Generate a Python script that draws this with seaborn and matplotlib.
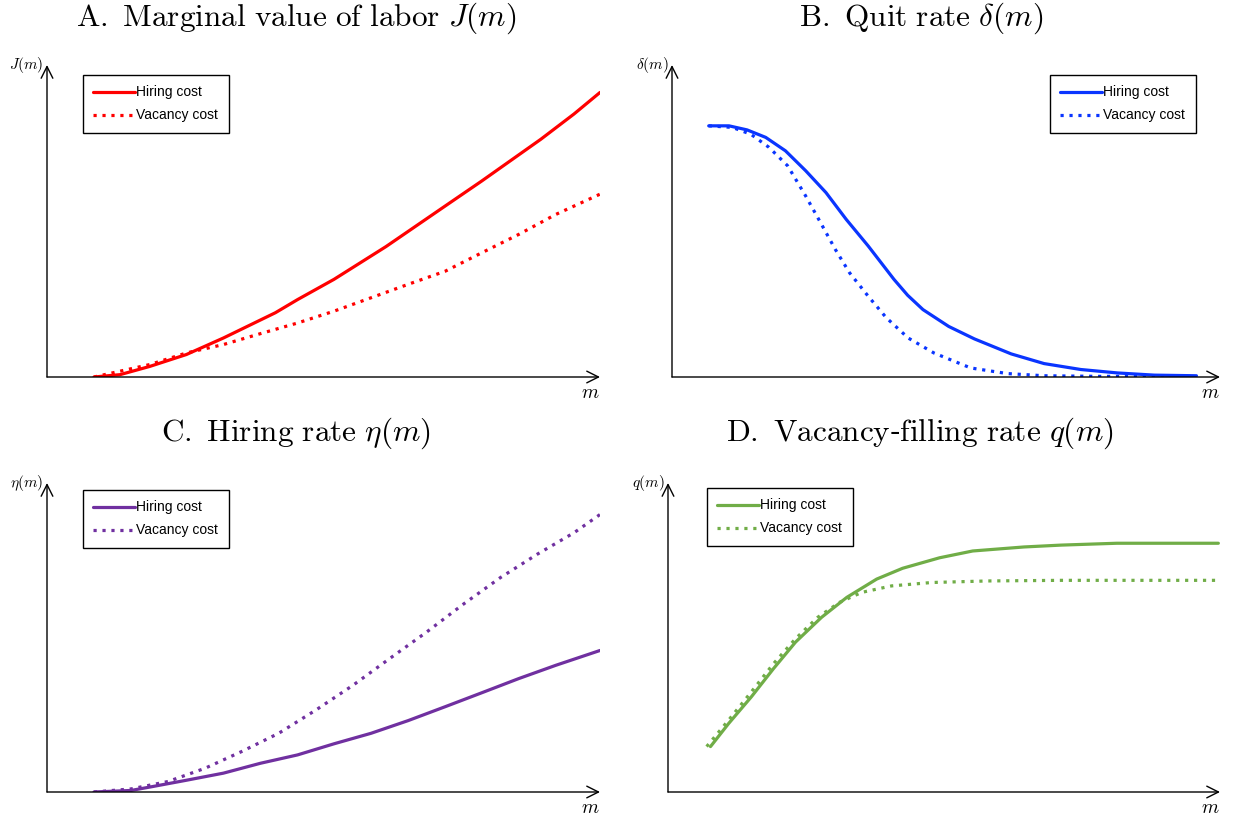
import matplotlib
matplotlib.use("Agg")
import matplotlib.pyplot as plt
import seaborn as sns

# ---------------- data (normalised m on [0,1], value on [0,1]) ----------------
# Panel A: marginal value of labor J(m)
mA_hiring = [0.085, 0.132, 0.186, 0.252, 0.319, 0.413, 0.453, 0.519, 0.613, 0.720, 0.786, 0.893, 0.953, 1.0]
JA_hiring = [0.0, 0.0075, 0.034, 0.072, 0.125, 0.206, 0.248, 0.313, 0.418, 0.548, 0.628, 0.762, 0.843, 0.912]
mA_vacancy = [0.085, 0.186, 0.252, 0.319, 0.386, 0.453, 0.519, 0.586, 0.653, 0.720, 0.786, 0.853, 0.920, 1.0]
JA_vacancy = [0.0, 0.040, 0.077, 0.104, 0.139, 0.173, 0.211, 0.254, 0.297, 0.339, 0.398, 0.457, 0.521, 0.586]

# Panel B: quit rate delta(m)
mB_hiring = [0.067, 0.104, 0.137, 0.171, 0.207, 0.244, 0.281, 0.318, 0.358, 0.405, 0.430, 0.458, 0.505, 0.552,
             0.619, 0.679, 0.746, 0.813, 0.880, 0.957]
dB_hiring = [0.805, 0.805, 0.792, 0.768, 0.725, 0.661, 0.591, 0.505, 0.420, 0.313, 0.262, 0.216, 0.162, 0.122,
             0.074, 0.043, 0.024, 0.013, 0.006, 0.004]
mB_vacancy = [0.067, 0.110, 0.144, 0.177, 0.211, 0.244, 0.271, 0.298, 0.324, 0.358, 0.391, 0.431, 0.478,
              0.545, 0.612, 0.679, 0.779, 0.957]
dB_vacancy = [0.805, 0.800, 0.778, 0.736, 0.677, 0.580, 0.495, 0.409, 0.334, 0.259, 0.190, 0.125, 0.077,
              0.029, 0.011, 0.004, 0.002, 0.002]

# Panel C: hiring rate eta(m)
mC_hiring = [0.085, 0.152, 0.186, 0.252, 0.319, 0.386, 0.453, 0.519, 0.586, 0.653, 0.720, 0.786, 0.853, 0.920, 1.0]
eC_hiring = [0.0, 0.005, 0.016, 0.038, 0.061, 0.093, 0.120, 0.156, 0.190, 0.231, 0.276, 0.321, 0.367, 0.410, 0.458]
mC_vacancy = [0.085, 0.152, 0.219, 0.286, 0.352, 0.419, 0.486, 0.553, 0.619, 0.686, 0.753, 0.820, 0.887, 0.953, 1.0]
eC_vacancy = [0.0, 0.010, 0.034, 0.077, 0.131, 0.190, 0.265, 0.345, 0.431, 0.517, 0.608, 0.694, 0.770, 0.839, 0.898]

# Panel D: vacancy-filling rate q(m)
mD_hiring = [0.077, 0.110, 0.151, 0.191, 0.231, 0.278, 0.324, 0.378, 0.425, 0.492, 0.552, 0.645, 0.712, 0.813, 0.997]
qD_hiring = [0.147, 0.222, 0.308, 0.399, 0.485, 0.565, 0.630, 0.689, 0.724, 0.758, 0.780, 0.793, 0.799, 0.805, 0.805]
mD_vacancy = [0.070, 0.110, 0.151, 0.191, 0.231, 0.271, 0.311, 0.351, 0.405, 0.478, 0.579, 0.712, 0.997]
qD_vacancy = [0.147, 0.233, 0.324, 0.415, 0.496, 0.565, 0.614, 0.646, 0.667, 0.678, 0.683, 0.685, 0.685]

titles = [r"$\mathrm{A.\ Marginal\ value\ of\ labor}\ J(m)$",
          r"$\mathrm{B.\ Quit\ rate}\ \delta(m)$",
          r"$\mathrm{C.\ Hiring\ rate}\ \eta(m)$",
          r"$\mathrm{D.\ Vacancy}$-$\mathrm{filling\ rate}\ q(m)$"]
ylabels = [r"$J(m)$", r"$\delta(m)$", r"$\eta(m)$", r"$q(m)$"]
series_labels = ["Hiring cost", "Vacancy cost"]
colors = ["#FF0000", "#0A35FF", "#7030A0", "#70AD47"]

# ---------------- style ----------------
sns.set_theme(style="white")
plt.rcParams['mathtext.fontset'] = 'cm'
plt.rcParams['font.family'] = ['Liberation Sans', 'DejaVu Sans']

W, H = 1234, 819
fig = plt.figure(figsize=(W / 100, H / 100), dpi=100)
fig.patch.set_facecolor('white')

# axes boxes in pixels: (left, right, bottom, top)
boxes = [(47, 600, 377, 65), (672, 1220, 377, 65), (47, 600, 792, 483), (668, 1220, 792, 483)]
title_pos = [(296, 18), (921, 18), (296, 433), (920, 433)]
legend_pos = [(83, 75), (1050, 75), (83, 490), (707, 488)]
data = [(mA_hiring, JA_hiring, mA_vacancy, JA_vacancy),
        (mB_hiring, dB_hiring, mB_vacancy, dB_vacancy),
        (mC_hiring, eC_hiring, mC_vacancy, eC_vacancy),
        (mD_hiring, qD_hiring, mD_vacancy, qD_vacancy)]

for i in range(4):
    l, r, b, t = boxes[i]
    ax = fig.add_axes([l / W, 1 - b / H, (r - l) / W, (b - t) / H])
    xh, yh, xv, yv = data[i]
    sns.lineplot(x=xh, y=yh, ax=ax, color=colors[i], lw=2.3, label=series_labels[0])
    sns.lineplot(x=xv, y=yv, ax=ax, color=colors[i], lw=2.3, linestyle=(0, (1, 1.8)),
                 label=series_labels[1])
    ax.set_xlim(0, 1)
    ax.set_ylim(0, 1)
    for s in ax.spines.values():
        s.set_visible(False)
    ax.set_xticks([])
    ax.set_yticks([])
    ax.set_facecolor('none')
    arrow = dict(arrowstyle='->,head_length=0.7,head_width=0.35', lw=1.0, color='black',
                 shrinkA=0, shrinkB=0)
    ax.annotate('', xy=(1, 0), xytext=(0, 0), xycoords='axes fraction', arrowprops=arrow)
    ax.annotate('', xy=(0, 1), xytext=(0, 0), xycoords='axes fraction', arrowprops=arrow)
    ax.text(-0.006, 1.0, ylabels[i], transform=ax.transAxes, ha='right', va='center',
            fontsize=11, color='black')
    ax.text(0.982, -0.025, r"$m$", transform=ax.transAxes, ha='center', va='top',
            fontsize=14, color='black')
    lx, ly = legend_pos[i]
    leg = ax.legend(loc='upper left', bbox_to_anchor=(lx / W, 1 - ly / H),
                    bbox_transform=fig.transFigure, frameon=True, fancybox=False,
                    edgecolor='black', framealpha=1, fontsize=10, handlelength=3.0,
                    handletextpad=0.1, labelspacing=0.65, borderpad=0.75, borderaxespad=0)
    leg.get_frame().set_linewidth(1.0)
    for txt in leg.get_texts():
        txt.set_color('black')
    tx, ty = title_pos[i]
    fig.text(tx / W, 1 - ty / H, titles[i], ha='center', va='center', fontsize=22.5, color='black')

fig.savefig("out.png", dpi=100, facecolor='white')
